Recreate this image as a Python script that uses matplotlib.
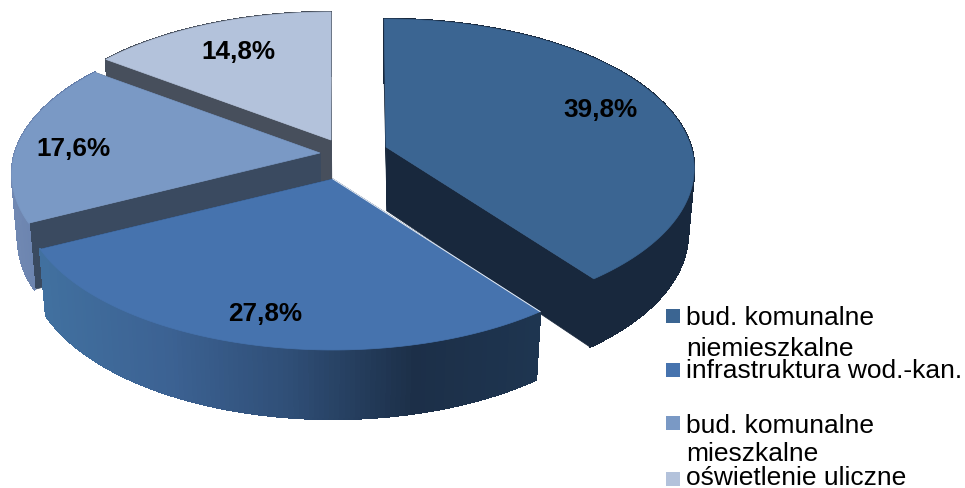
#!/usr/bin/env python3
# 3D exploded pie, drawn by hand because matplotlib has no perspective pie
import numpy as np
import matplotlib
matplotlib.use("Agg")
import matplotlib.pyplot as plt
from matplotlib.collections import PolyCollection, LineCollection
from matplotlib.colors import LinearSegmentedColormap
from matplotlib.patches import Polygon, Rectangle

shares = [39.8, 27.8, 17.6, 14.8]
value_labels = ["39,8%", "27,8%", "17,6%", "14,8%"]
legend_lines = [["bud. komunalne", "niemieszkalne"],
                ["infrastruktura wod.-kan."],
                ["bud. komunalne", "mieszkalne"],
                ["oświetlenie uliczne"]]

# style and layout, pixels of the reference
top_colors = ["#3b6592", "#4673ae", "#7a99c5", "#b3c2db"]
wall_colors = ["#18283d", "#18283d", "#3a4a60", "#474f5c"]
rim_maps = [["#18283d", "#18283d"],
            ["#41709f", "#3c6293", "#2f4e76", "#1c2f48", "#1e3550"],
            ["#7088b2", "#5f78a6"],
            ["#474f5c", "#474f5c"]]
apexes = [(386, 148), (333, 180), (320, 154), (331, 141)]
turn = [-0.4, 0, 0, 0]          # small rotation of single slices, degrees
stretch = [1.0, 1.005, 1.0, 1.0]
label_pos = [(600, 110), (265, 314), (74, 149), (238, 52)]
legend_box_y = [310, 364, 417, 473]
legend_base_y = [[325, 356], [378], [433, 461], [485]]
RX, RY, K = 305.0, 146.4, 0.1437


def project(angle, apex, scale=1.0, bottom=False):
    # angle in degrees clockwise from 12 o'clock, v axis points at the viewer
    t = np.radians(angle)
    u, v = np.sin(t), -np.cos(t)
    p = 1.0 / (1.0 - K * v)
    r = 0.98 if bottom else 1.0
    x = apex[0] + RX * scale * u * p * r
    y = apex[1] + RY * v * p
    if bottom:
        y = y + 64 + 5 * np.maximum(v, 0)
    return np.column_stack([x, y])


def bottom_apex(apex):
    return (apex[0] + 1, apex[1] + 64)


fig = plt.figure(figsize=(9.65, 4.89), dpi=100)
ax = fig.add_axes([0, 0, 1, 1])
ax.set_xlim(0, 965)
ax.set_ylim(489, 0)
ax.axis("off")

edges = np.concatenate([[0], np.cumsum(shares)]) / np.sum(shares) * 360.0

# back slices first, the front one overlaps the wall of the first slice
z = 1
for i in [3, 2, 0, 1]:
    a0, a1 = edges[i] + turn[i], edges[i + 1] + turn[i]
    apex = apexes[i]
    angles = np.linspace(a0, a1, 121)
    top = project(angles, apex, stretch[i])
    bot = project(angles, apex, stretch[i], bottom=True)

    for a in [a0, a1]:
        quad = np.vstack([[apex], project(a, apex, stretch[i]),
                          project(a, apex, stretch[i], bottom=True), [bottom_apex(apex)]])
        ax.add_patch(Polygon(quad, closed=True, fc=wall_colors[i], ec=wall_colors[i], lw=0.5, zorder=z))

    cmap = LinearSegmentedColormap.from_list("rim", rim_maps[i])
    strips = [np.array([top[j], top[j + 1], bot[j + 1], bot[j]]) for j in range(len(angles) - 1)]
    mids = (top[:-1, 0] + top[1:, 0]) / 2
    fracs = (mids - mids.min()) / (mids.max() - mids.min())
    cols = cmap(fracs)
    # no antialiasing inside the wall, it gives stripes; the outer edge is stroked instead
    ax.add_collection(PolyCollection(strips, facecolors=cols, edgecolors=cols, linewidths=1.0,
                                     antialiaseds=False, zorder=z))
    segs = [bot[j:j + 2] for j in range(len(angles) - 1)]
    ax.add_collection(LineCollection(segs, colors=cols, linewidths=1.0, zorder=z))

    ax.add_patch(Polygon(np.vstack([[apex], top]), closed=True, fc=top_colors[i], ec=top_colors[i],
                         lw=0.5, zorder=z))
    if i == 1:
        # thin light seam where this slice meets the dark wall behind it
        ax.plot([apex[0], top[0, 0]], [apex[1], top[0, 1]], color="#e8edf4", lw=0.7, zorder=z)

    ax.text(label_pos[i][0], label_pos[i][1], value_labels[i], ha="center", va="center",
            family="Liberation Sans", weight="bold", fontsize=18.8, color="black", zorder=10)
    z += 1

for i in range(len(shares)):
    ax.add_patch(Rectangle((666, legend_box_y[i]), 14, 14, fc=top_colors[i], ec="none", zorder=10))
    for line, y in zip(legend_lines[i], legend_base_y[i]):
        ax.text(686, y, line, ha="left", va="baseline", family="Liberation Sans",
                fontsize=19, color="black", zorder=10)

fig.savefig("out.png", dpi=100)
